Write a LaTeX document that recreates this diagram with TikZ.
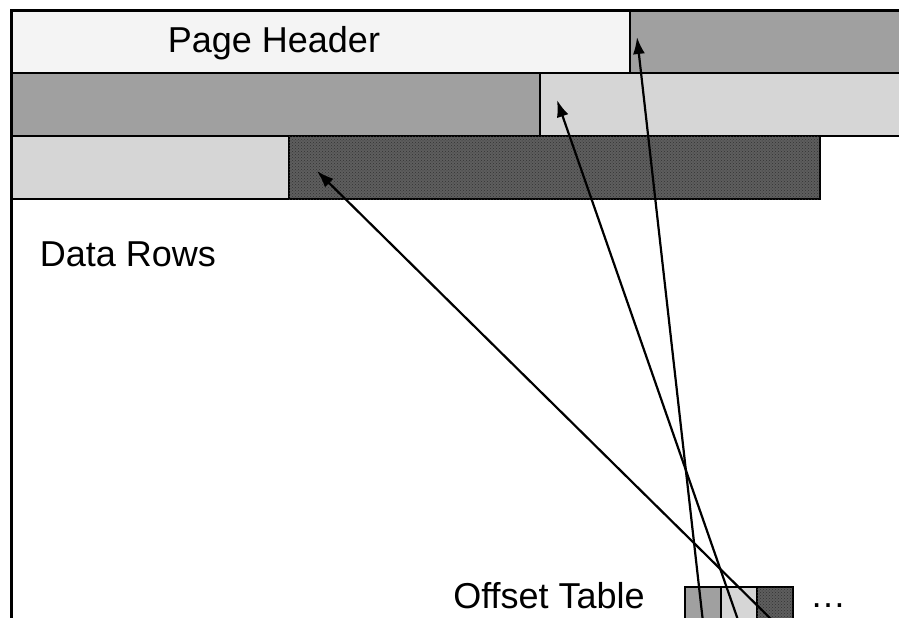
\documentclass[tikz,border=0pt]{standalone}
\usepackage{fontspec}
\setmainfont{Liberation Sans}
\usetikzlibrary{arrows.meta,patterns}
\definecolor{hdrlight}{HTML}{F4F4F4}
\definecolor{rowmid}{HTML}{A0A0A0}
\definecolor{rowlight}{HTML}{D6D6D6}
\definecolor{rowdark}{HTML}{5E5E5E}
\tikzset{
  blk/.style={draw=black,line width=2.4pt},
  darkblk/.style={blk,fill=rowdark,postaction={pattern=crosshatch dots,pattern color=black!80}},
  cell/.style={draw=black,line width=2.2pt,minimum width=36pt,minimum height=40pt,inner sep=0pt},
  ptr/.style={line width=2.2pt,-{Latex[length=17pt,width=12pt]}},
  lbl/.style={font=\fontsize{36}{40}\selectfont}
}
\begin{document}
\begin{tikzpicture}[x=1pt,y=-1pt]
\useasboundingbox (0,0) rectangle (899,618);
\begin{scope}
\clip (0,0) rectangle (899,618);
% rows
\draw[blk,fill=hdrlight] (11,11) rectangle (630,73);
\draw[blk,fill=rowmid] (630,11) rectangle (910,73);
\draw[blk,fill=rowmid] (11,73) rectangle (540,136);
\draw[blk,fill=rowlight] (540,73) rectangle (910,136);
\draw[blk,fill=rowlight] (11,136) rectangle (289,199);
\draw[darkblk] (289,136) rectangle (820,199);
% page frame
\draw[line width=3pt] (11,630) -- (11,11) -- (910,11);
% offset table
\node[cell,fill=rowmid,anchor=north west] (off1) at (684,586) {};
\node[cell,fill=rowlight,anchor=north west] (off2) at (720,586) {};
\node[cell,fill=rowdark,postaction={pattern=crosshatch dots,pattern color=black!80},anchor=north west] (off3) at (756,586) {};
\end{scope}
\node[lbl] (hdr) at (274,43) {Page Header};
\node[lbl] (rows) at (128,254) {Data Rows};
\node[lbl] (tbl) at (549,596) {Offset Table};
\node[lbl] (more) at (828,606) {\dots};
\coordinate (t1) at (637,37);
\coordinate (t2) at (557,100);
\coordinate (t3) at (317,171);
\draw[ptr] ([yshift=-16pt]off1.center) -- (t1);
\draw[ptr] ([yshift=-16pt]off2.center) -- (t2);
\draw[ptr] ([yshift=-16pt]off3.center) -- (t3);
\end{tikzpicture}
\end{document}
